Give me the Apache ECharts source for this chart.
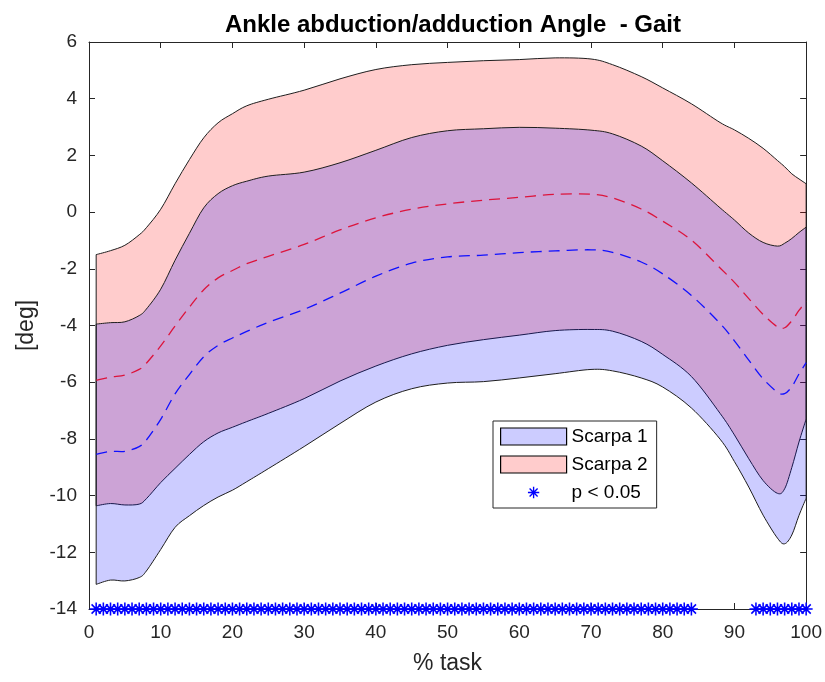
<!DOCTYPE html>
<html>
<head>
<meta charset="utf-8">
<script src="https://cdn.jsdelivr.net/npm/echarts@6/dist/echarts.min.js"></script>
<style>
  html, body { margin: 0; padding: 0; background: #fff; }
  #chart { width: 825px; height: 682px; }
</style>
</head>
<body>
<div id="chart"></div>
<script>
// Gait cycle samples (% of task)
const pctTask = [1, 3, 5, 7, 8, 10, 12, 14, 16, 18, 20, 22, 25, 30, 35, 40, 45, 50, 55, 60,
                 65, 70, 73, 77, 80, 84, 88, 90, 92, 94, 96, 97, 98, 99, 100];

// Scarpa 1: mean and standard deviation [deg]
const scarpa1Mean = [-8.54, -8.44, -8.44, -8.27, -8.04, -7.31, -6.41, -5.73, -5.10, -4.70,
                     -4.44, -4.21, -3.89, -3.43, -2.86, -2.26, -1.80, -1.58, -1.52, -1.43,
                     -1.37, -1.33, -1.42, -1.76, -2.18, -2.94, -3.93, -4.54, -5.22, -5.88,
                     -6.35, -6.40, -6.16, -5.71, -5.31];
const scarpa1Sd = [4.59, 4.54, 4.57, 4.62, 4.62, 4.59, 4.71, 4.98, 5.25, 5.35,
                   5.37, 5.30, 5.16, 4.84, 4.60, 4.44, 4.43, 4.45, 4.46, 4.42,
                   4.33, 4.22, 4.18, 4.09, 3.99, 3.97, 4.08, 4.26, 4.48, 4.81,
                   5.15, 5.30, 5.23, 4.99, 4.78];

// Scarpa 2: mean and standard deviation [deg]
const scarpa2Mean = [-5.93, -5.82, -5.75, -5.55, -5.33, -4.72, -4.02, -3.35, -2.74, -2.32,
                     -2.06, -1.82, -1.56, -1.14, -0.63, -0.20, 0.10, 0.29, 0.42, 0.52,
                     0.63, 0.63, 0.50, 0.11, -0.32, -0.99, -1.97, -2.48, -3.05, -3.61,
                     -4.05, -4.08, -3.83, -3.47, -3.15];
const scarpa2Sd = [4.43, 4.46, 4.58, 4.75, 4.78, 4.82, 5.02, 5.20, 5.36, 5.47,
                   5.53, 5.57, 5.54, 5.44, 5.33, 5.23, 5.10, 4.99, 4.92, 4.86,
                   4.81, 4.77, 4.70, 4.67, 4.70, 4.81, 5.13, 5.38, 5.65, 5.86,
                   5.87, 5.68, 5.18, 4.64, 4.15];

// Samples where the difference is significant (p < 0.05)
const significantAt = [1, 2, 3, 4, 5, 6, 7, 8, 9, 10, 11, 12, 13, 14, 15, 16, 17, 18, 19, 20,
                       21, 22, 23, 24, 25, 26, 27, 28, 29, 30, 31, 32, 33, 34, 35, 36, 37, 38, 39, 40,
                       41, 42, 43, 44, 45, 46, 47, 48, 49, 50, 51, 52, 53, 54, 55, 56, 57, 58, 59, 60,
                       61, 62, 63, 64, 65, 66, 67, 68, 69, 70, 71, 72, 73, 74, 75, 76, 77, 78, 79, 80,
                       81, 82, 83, 84, 93, 94, 95, 96, 97, 98, 99, 100];

// Axis ranges
const xTicks = [0, 10, 20, 30, 40, 50, 60, 70, 80, 90, 100];
const yTicks = [-14, -12, -10, -8, -6, -4, -2, 0, 2, 4, 6];

const FONT = '"Liberation Sans", Arial, Helvetica, sans-serif';
const AXIS_COLOR = '#262626';
const EDGE_COLOR = '#1e1e1e';

const STAR = 'path://M8.8 0H11.2V20H8.8Z M0 8.8H20V11.2H0Z ' +
  'M3.78 2.08L17.92 16.22L16.22 17.92L2.08 3.78Z ' +
  'M16.22 2.08L17.92 3.78L3.78 17.92L2.08 16.22Z';
// same asterisk with a little empty margin for the legend swatch
const STAR_ICON = 'path://M-5 -5h0.01v0.01h-0.01Z M25 25h0.01v0.01h-0.01Z ' + STAR.slice(7);

// Catmull-Rom curve through pixel points, as cubic Bezier path commands
function curveThrough(pts, start) {
  const n = pts.length;
  let d = start + pts[0][0].toFixed(2) + ' ' + pts[0][1].toFixed(2);
  for (let i = 0; i < n - 1; i++) {
    const p0 = pts[Math.max(i - 1, 0)], p1 = pts[i], p2 = pts[i + 1], p3 = pts[Math.min(i + 2, n - 1)];
    const c1 = [p1[0] + (p2[0] - p0[0]) / 6, p1[1] + (p2[1] - p0[1]) / 6];
    const c2 = [p2[0] - (p3[0] - p1[0]) / 6, p2[1] - (p3[1] - p1[1]) / 6];
    d += ' C' + c1[0].toFixed(2) + ' ' + c1[1].toFixed(2) + ' ' + c2[0].toFixed(2) + ' ' +
         c2[1].toFixed(2) + ' ' + p2[0].toFixed(2) + ' ' + p2[1].toFixed(2);
  }
  return d;
}

// mean ± sd band, outlined like a filled patch
function bandSeries(name, mean, sd, fill) {
  return {
    type: 'custom', name: name, coordinateSystem: 'cartesian2d', silent: true, z: 3,
    data: pctTask.map((x, i) => [x, mean[i], sd[i]]),
    encode: { x: 0, y: 1 },
    renderItem: function (params, api) {
      if (params.dataIndex !== 0) return null;
      const upper = pctTask.map((x, i) => api.coord([x, mean[i] + sd[i]]));
      const lower = pctTask.map((x, i) => api.coord([x, mean[i] - sd[i]])).reverse();
      const d = curveThrough(upper, 'M') + ' ' + curveThrough(lower, 'L') + ' Z';
      return {
        type: 'path', shape: { pathData: d },
        style: { fill: fill, stroke: EDGE_COLOR, lineWidth: 1 }
      };
    }
  };
}

function meanSeries(name, mean, color) {
  return {
    type: 'custom', name: name, coordinateSystem: 'cartesian2d', silent: true, z: 4,
    data: pctTask.map((x, i) => [x, mean[i]]),
    encode: { x: 0, y: 1 },
    renderItem: function (params, api) {
      if (params.dataIndex !== 0) return null;
      const pts = pctTask.map((x, i) => api.coord([x, mean[i]]));
      return {
        type: 'path', shape: { pathData: curveThrough(pts, 'M') },
        style: { fill: null, stroke: color, lineWidth: 1.3, lineDash: [11, 7] }
      };
    }
  };
}

const blueFill = 'rgba(0, 0, 255, 0.2)';
const redFill = 'rgba(255, 0, 0, 0.2)';

const axisCommon = {
  type: 'value',
  axisLine: { show: true, onZero: false, lineStyle: { color: AXIS_COLOR, width: 1 } },
  axisTick: { show: true, inside: true, length: 6, lineStyle: { color: AXIS_COLOR } },
  splitLine: { show: false }
};

const chart = echarts.init(document.getElementById('chart'), null, { renderer: 'canvas' });

chart.setOption({
  animation: false,
  backgroundColor: '#ffffff',
  title: {
    text: 'Ankle abduction/adduction Angle  - Gait',
    left: 448, top: 8, textAlign: 'center',
    textStyle: { fontFamily: FONT, fontWeight: 'bold', fontSize: 24, color: '#000' }
  },
  grid: { left: 89, right: 17, top: 42, bottom: 73, containLabel: false },
  xAxis: [
    Object.assign({}, axisCommon, {
      min: xTicks[0], max: xTicks[xTicks.length - 1], interval: xTicks[1] - xTicks[0],
      position: 'bottom',
      axisLabel: { color: AXIS_COLOR, fontFamily: FONT, fontSize: 19, margin: 14 },
      name: '% task', nameLocation: 'middle', nameGap: 43,
      nameTextStyle: { color: AXIS_COLOR, fontFamily: FONT, fontSize: 23 }
    }),
    Object.assign({}, axisCommon, {
      min: xTicks[0], max: xTicks[xTicks.length - 1], interval: xTicks[1] - xTicks[0],
      position: 'top', axisLabel: { show: false }
    })
  ],
  yAxis: [
    Object.assign({}, axisCommon, {
      min: yTicks[0], max: yTicks[yTicks.length - 1], interval: yTicks[1] - yTicks[0],
      position: 'left',
      axisLabel: { color: AXIS_COLOR, fontFamily: FONT, fontSize: 19, margin: 12 },
      name: '[deg]', nameLocation: 'middle', nameGap: 50, nameRotate: 90,
      nameTextStyle: { color: AXIS_COLOR, fontFamily: FONT, fontSize: 23 }
    }),
    Object.assign({}, axisCommon, {
      min: yTicks[0], max: yTicks[yTicks.length - 1], interval: yTicks[1] - yTicks[0],
      position: 'right', axisLabel: { show: false }
    })
  ],
  legend: {
    orient: 'vertical', left: 493, top: 421,
    padding: [6, 9, 6, 7], itemGap: 9, itemWidth: 66, itemHeight: 17,
    backgroundColor: '#fff', borderColor: AXIS_COLOR, borderWidth: 1, borderRadius: 0,
    selectedMode: false,
    textStyle: { fontFamily: FONT, fontSize: 19, color: '#000' },
    data: [
      { name: 'Scarpa 1', icon: 'rect', itemStyle: { color: blueFill, borderColor: '#000', borderWidth: 1.2 } },
      { name: 'Scarpa 2', icon: 'rect', itemStyle: { color: redFill, borderColor: '#000', borderWidth: 1.2 } },
      { name: 'p < 0.05', icon: STAR_ICON, itemStyle: { color: '#0000ff', borderWidth: 0 } }
    ]
  },
  series: [
    // Scarpa 2 patch first, Scarpa 1 laid over it
    bandSeries('Scarpa 2', scarpa2Mean, scarpa2Sd, redFill),
    bandSeries('Scarpa 1', scarpa1Mean, scarpa1Sd, blueFill),
    meanSeries('Scarpa 1 mean', scarpa1Mean, '#1010ff'),
    meanSeries('Scarpa 2 mean', scarpa2Mean, '#dc143c'),
    {
      type: 'scatter', name: 'p < 0.05', symbol: STAR, symbolSize: 13,
      data: significantAt.map(x => [x, yTicks[0]]), clip: false, z: 6, silent: true,
      itemStyle: { color: '#0000ff', opacity: 1 }
    }
  ]
});
</script>
</body>
</html>
